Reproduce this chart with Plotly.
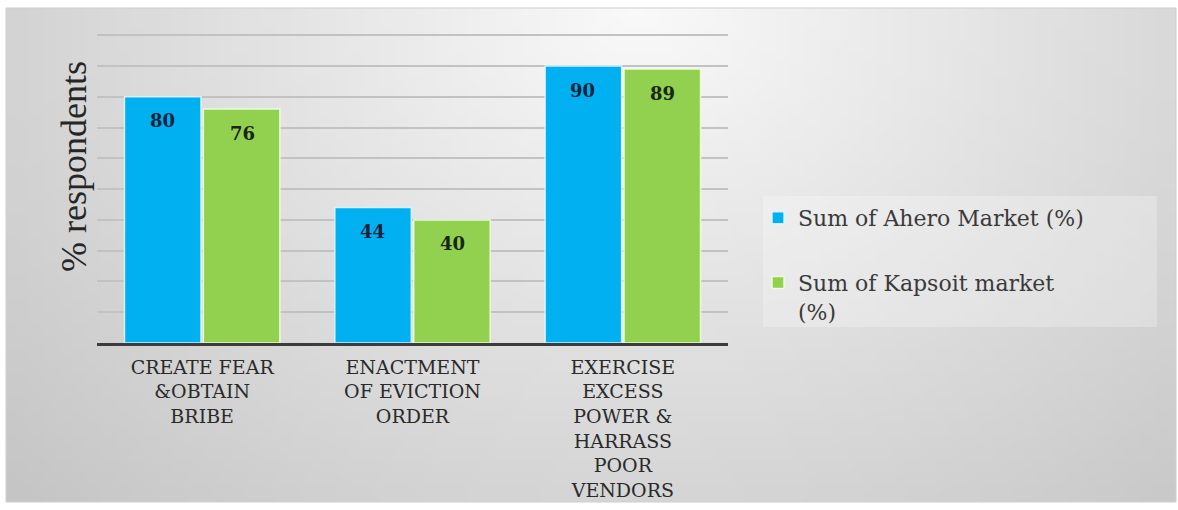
import base64, struct, zlib
import numpy as np
import plotly.graph_objects as go

# ---- data ----
categories = ["CREATE FEAR<br>&OBTAIN<br>BRIBE",
              "ENACTMENT<br>OF EVICTION<br>ORDER",
              "EXERCISE<br>EXCESS<br>POWER &<br>HARRASS<br>POOR<br>VENDORS"]
ahero = [80, 44, 90]
kapsoit = [76, 40, 89]
series_names = ["Sum of Ahero Market (%)", "Sum of Kapsoit market<br>(%)"]
y_title = "% respondents"

W, H = 1178, 510
L, R, T, B = 97, 728, 34, 343  # plot area in pixels

# ---- background gradient image ----
def gradient_png(w=80, h=40):
    xs = np.linspace(6, 1176, w)
    ys = np.linspace(8, 502, h)
    X, Y = np.meshgrid(xs, ys)
    d = np.sqrt(((X - 640) / 750) ** 2 + ((Y - 0) / 620) ** 2)
    c = np.clip(250 - 45 * d, 190, 252).astype(np.uint8)
    arr = np.stack([c, c, c], axis=-1)
    raw = b"".join(b"\x00" + arr[i].tobytes() for i in range(h))
    def chunk(t, data):
        ch = t + data
        return struct.pack(">I", len(data)) + ch + struct.pack(">I", zlib.crc32(ch) & 0xffffffff)
    png = b"\x89PNG\r\n\x1a\n" + chunk(b"IHDR", struct.pack(">IIBBBBB", w, h, 8, 2, 0, 0, 0)) \
        + chunk(b"IDAT", zlib.compress(raw, 9)) + chunk(b"IEND", b"")
    return "data:image/png;base64," + base64.b64encode(png).decode()

def px_x(p):
    return (p - L) / (R - L)

def px_y(p):
    return (B - p) / (B - T)

fig = go.Figure()
fig.add_trace(go.Bar(x=categories, y=ahero, name=series_names[0], legendgroup="a",
                     marker=dict(color="#00B0F0", line=dict(color="rgba(225,245,255,0.9)", width=1.5))))
fig.add_trace(go.Bar(x=categories, y=kapsoit, name=series_names[1], legendgroup="k",
                     marker=dict(color="#92D050", line=dict(color="rgba(240,255,225,0.9)", width=1.5))))

annots = []
for cat, v in zip(categories, ahero):
    annots.append(dict(x=cat, y=v, xref="x", yref="y", text=f"<b>{v}</b>", showarrow=False,
                       xshift=-40, yshift=-24, font=dict(family="DejaVu Serif", size=18, color="#10243c")))
for cat, v in zip(categories, kapsoit):
    annots.append(dict(x=cat, y=v, xref="x", yref="y", text=f"<b>{v}</b>", showarrow=False,
                       xshift=40, yshift=-24, font=dict(family="DejaVu Serif", size=18, color="#1a2614")))
annots.append(dict(text=y_title, xref="paper", yref="paper", x=px_x(74), y=px_y(167),
                   textangle=-90, showarrow=False, xanchor="center", yanchor="middle",
                   font=dict(family="Liberation Serif", size=36, color="#262626")))

fig.update_layout(
    width=W, height=H,
    margin=dict(l=L, r=W - R, t=T, b=H - B, autoexpand=False),
    paper_bgcolor="white", plot_bgcolor="rgba(0,0,0,0)",
    barmode="group", bargap=0.25, bargroupgap=0.03,
    showlegend=True,
    legend=dict(xref="container", yref="container", x=758 / W, y=1 - 197 / H,
                xanchor="left", yanchor="top", bgcolor="rgba(0,0,0,0)", valign="top",
                font=dict(family="DejaVu Serif", size=22, color="#3a3a3a"),
                tracegroupgap=33, traceorder="grouped"),
    annotations=annots,
    images=[dict(source=gradient_png(), xref="paper", yref="paper",
                 x=px_x(6), y=px_y(8), sizex=px_x(1176) - px_x(6), sizey=px_y(8) - px_y(502),
                 xanchor="left", yanchor="top", sizing="stretch", layer="below")],
    shapes=[dict(type="rect", xref="paper", yref="paper", x0=px_x(6), x1=px_x(1176),
                 y0=px_y(502), y1=px_y(8), line=dict(color="#cfcfcf", width=1), layer="below"),
            dict(type="rect", xref="paper", yref="paper", x0=px_x(763), x1=px_x(1157),
                 y0=px_y(327), y1=px_y(196), fillcolor="rgba(255,255,255,0.25)",
                 line=dict(width=0), layer="below")],
)
fig.update_yaxes(range=[0, 100.4], tickvals=list(range(10, 101, 10)), showticklabels=False,
                 showgrid=True, gridcolor="#c2c2c2", gridwidth=1.5, zeroline=False)
fig.update_xaxes(showline=True, linecolor="#3c3c3c", linewidth=2.5, ticks="",
                 ticklabelstandoff=5,
                 tickfont=dict(family="DejaVu Serif", size=19, color="#2a2a2a"))

fig.write_html("out.html", config={"displayModeBar": False},
               post_script="document.body.style.margin='0';")
